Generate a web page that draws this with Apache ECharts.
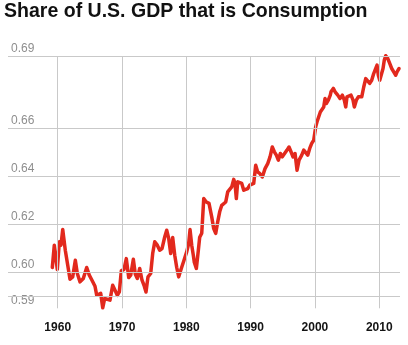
<!DOCTYPE html>
<html>
<head>
<meta charset="utf-8">
<script src="https://cdn.jsdelivr.net/npm/echarts@6/dist/echarts.min.js"></script>
<style>
  html, body { margin: 0; padding: 0; background: #fff; }
  #chart { width: 408px; height: 345px; }
</style>
</head>
<body>
<div id="chart"></div>
<script>
// Personal consumption as a share of GDP, roughly quarterly
const years = [
  1959.16, 1959.47, 1959.94, 1960.25, 1960.51, 1960.78, 1961.18, 1961.56, 1961.91, 1962.33,
  1962.74, 1963.05, 1963.47, 1963.98, 1964.51, 1964.91, 1965.33, 1965.80, 1966.07, 1966.38,
  1966.69, 1967.00, 1967.31, 1967.62, 1968.13, 1968.55, 1968.91, 1969.27, 1969.58,
  1969.89, 1970.31, 1970.67, 1971.04, 1971.35, 1971.76, 1972.07, 1972.38, 1972.75, 1973.11,
  1973.42, 1973.73, 1974.04, 1974.46, 1974.77, 1975.09, 1975.49, 1975.86, 1976.22, 1976.64,
  1976.95, 1977.26, 1977.57, 1977.88, 1978.20, 1978.51, 1978.82, 1979.22, 1979.64, 1980.06,
  1980.37, 1980.58,
  1980.84, 1981.09, 1981.24, 1981.56, 1981.87, 1982.08, 1982.40, 1982.71, 1983.11, 1983.53,
  1983.95, 1984.26, 1984.57, 1984.88, 1985.19, 1985.51, 1985.82, 1986.13, 1986.44, 1986.75,
  1987.06, 1987.37, 1987.57, 1987.78, 1987.99, 1988.30, 1988.62, 1988.93, 1989.24, 1989.55,
  1989.86, 1990.17, 1990.48, 1990.79, 1991.10, 1991.42,
  1991.82, 1992.24, 1992.66, 1993.02, 1993.37, 1993.69, 1994.00, 1994.31, 1994.62, 1994.93,
  1995.24, 1995.66, 1995.97, 1996.28, 1996.59, 1996.91, 1997.22, 1997.53, 1997.95, 1998.26,
  1998.57, 1998.88, 1999.19, 1999.50, 1999.81, 2000.12, 2000.33, 2000.53, 2000.84, 2001.06,
  2001.37, 2001.57, 2001.77, 2002.08, 2002.39,
  2002.50, 2002.86, 2003.13, 2003.55, 2003.90, 2004.26, 2004.57, 2004.79, 2004.99, 2005.30,
  2005.61, 2005.93, 2006.13, 2006.44, 2006.75, 2007.06, 2007.28, 2007.59, 2007.90, 2008.21,
  2008.52, 2008.83, 2009.14, 2009.35, 2009.66, 2009.86, 2010.08, 2010.28, 2010.59, 2010.79,
  2011.01, 2011.32, 2011.63, 2011.94, 2012.25, 2012.57, 2012.77, 2013.08
];
const shares = [
  0.6021, 0.6114, 0.6013, 0.6128, 0.6114, 0.6179, 0.6093, 0.6030, 0.5972, 0.5982,
  0.6051, 0.5996, 0.5961, 0.5975, 0.6021, 0.5989, 0.5968, 0.5943, 0.5905, 0.5898,
  0.5913, 0.5853, 0.5892, 0.5885, 0.5885, 0.5947, 0.5926, 0.5905, 0.5919,
  0.6007, 0.6013, 0.6058, 0.5979, 0.5989, 0.6055, 0.5993, 0.5975, 0.6017, 0.5968,
  0.5947, 0.5919, 0.5982, 0.5996, 0.6079, 0.6128, 0.6114, 0.6093, 0.6100, 0.6148,
  0.6176, 0.6142, 0.6079, 0.6146, 0.6072, 0.6021, 0.5982, 0.6017, 0.6051, 0.6086,
  0.6121, 0.6179,
  0.6114, 0.6072, 0.6043, 0.6017, 0.6093, 0.6147, 0.6164, 0.6308, 0.6294, 0.6288,
  0.6232, 0.6183, 0.6163, 0.6211, 0.6253, 0.6280, 0.6273, 0.6294, 0.6336, 0.6343,
  0.6357, 0.6388, 0.6371, 0.6308, 0.6378, 0.6371, 0.6371, 0.6343, 0.6336, 0.6350,
  0.6364, 0.6364, 0.6371, 0.6447, 0.6419, 0.6413,
  0.6398, 0.6433, 0.6454, 0.6482, 0.6523, 0.6503, 0.6489, 0.6468, 0.6496, 0.6482,
  0.6489, 0.6510, 0.6523, 0.6503, 0.6482, 0.6496, 0.6426, 0.6468, 0.6489, 0.6510,
  0.6503, 0.6489, 0.6517, 0.6538, 0.6551, 0.6607, 0.6628, 0.6621, 0.6669, 0.6663,
  0.6690, 0.6725, 0.6704, 0.6718, 0.6739,
  0.6753, 0.6767, 0.6753, 0.6739, 0.6725, 0.6739, 0.6718, 0.6690, 0.6732, 0.6725,
  0.6739, 0.6718, 0.6690, 0.6718, 0.6732, 0.6739, 0.6732, 0.6773, 0.6808, 0.6815,
  0.6788, 0.6801, 0.6829, 0.6843, 0.6864, 0.6822, 0.6801, 0.6794, 0.6850, 0.6885,
  0.6903, 0.6892, 0.6871, 0.6850, 0.6836, 0.6822, 0.6836, 0.6850
];

// Axis ticks (the lowest one is printed rounded to two decimals)
const xTicks = [1960, 1970, 1980, 1990, 2000, 2010];
const yTicks = [0.5851, 0.60, 0.62, 0.64, 0.66, 0.69];

const titleText = 'Share of U.S. GDP that is Consumption';

const seriesData = years.map((y, i) => [y, shares[i]]);

const chart = echarts.init(document.getElementById('chart'), null, { renderer: 'canvas' });

const gridLineStyle = { color: '#c9c9c9', width: 1, type: 'solid' };

chart.setOption({
  animation: false,
  backgroundColor: '#ffffff',
  graphic: [
    {
      // condensed bold heading
      type: 'text',
      x: 4,
      y: 1,
      scaleX: 0.93,
      style: {
        text: titleText,
        font: 'bold 21px "Liberation Sans", Arial, sans-serif',
        fill: '#111111',
        textVerticalAlign: 'top'
      }
    }
  ],
  grid: { left: 8, right: 8, top: 56.5, bottom: 36.7, containLabel: false },
  xAxis: {
    type: 'value',
    min: 1952.27,
    max: 2013.23,
    splitLine: { show: false },
    axisLine: { show: false },
    axisTick: { show: false },
    axisLabel: {
      customValues: xTicks,
      formatter: v => String(Math.round(v)),
      fontFamily: '"Liberation Sans", Arial, sans-serif',
      fontWeight: 'bold',
      fontSize: 12,
      color: '#141414',
      margin: 13
    }
  },
  yAxis: {
    type: 'value',
    min: 0.5851,
    max: 0.69,
    splitLine: { show: false },
    axisLine: { show: false },
    axisTick: { show: false },
    axisLabel: {
      customValues: yTicks,
      inside: true,
      formatter: v => v.toFixed(2),
      fontFamily: '"Liberation Sans", Arial, sans-serif',
      fontSize: 12,
      color: '#8e8e8e',
      align: 'left',
      verticalAlign: 'bottom',
      margin: 3,
      padding: [0, 0, 2, 0]
    }
  },
  series: [
    {
      // grid lines drawn beneath the data line
      type: 'line',
      data: [],
      z: 1,
      silent: true,
      markLine: {
        silent: true,
        symbol: ['none', 'none'],
        label: { show: false },
        emphasis: { disabled: true },
        lineStyle: gridLineStyle,
        animation: false,
        data: [
          ...yTicks.map(v => ({ yAxis: v })),
          ...xTicks.map(v => ({ xAxis: v }))
        ]
      }
    },
    {
      name: 'Consumption share',
      type: 'line',
      data: seriesData,
      z: 3,
      clip: false,
      showSymbol: false,
      smooth: false,
      lineStyle: { color: '#e2291d', width: 3.5, join: 'round', cap: 'round' },
      emphasis: { disabled: true }
    }
  ]
});
</script>
</body>
</html>
